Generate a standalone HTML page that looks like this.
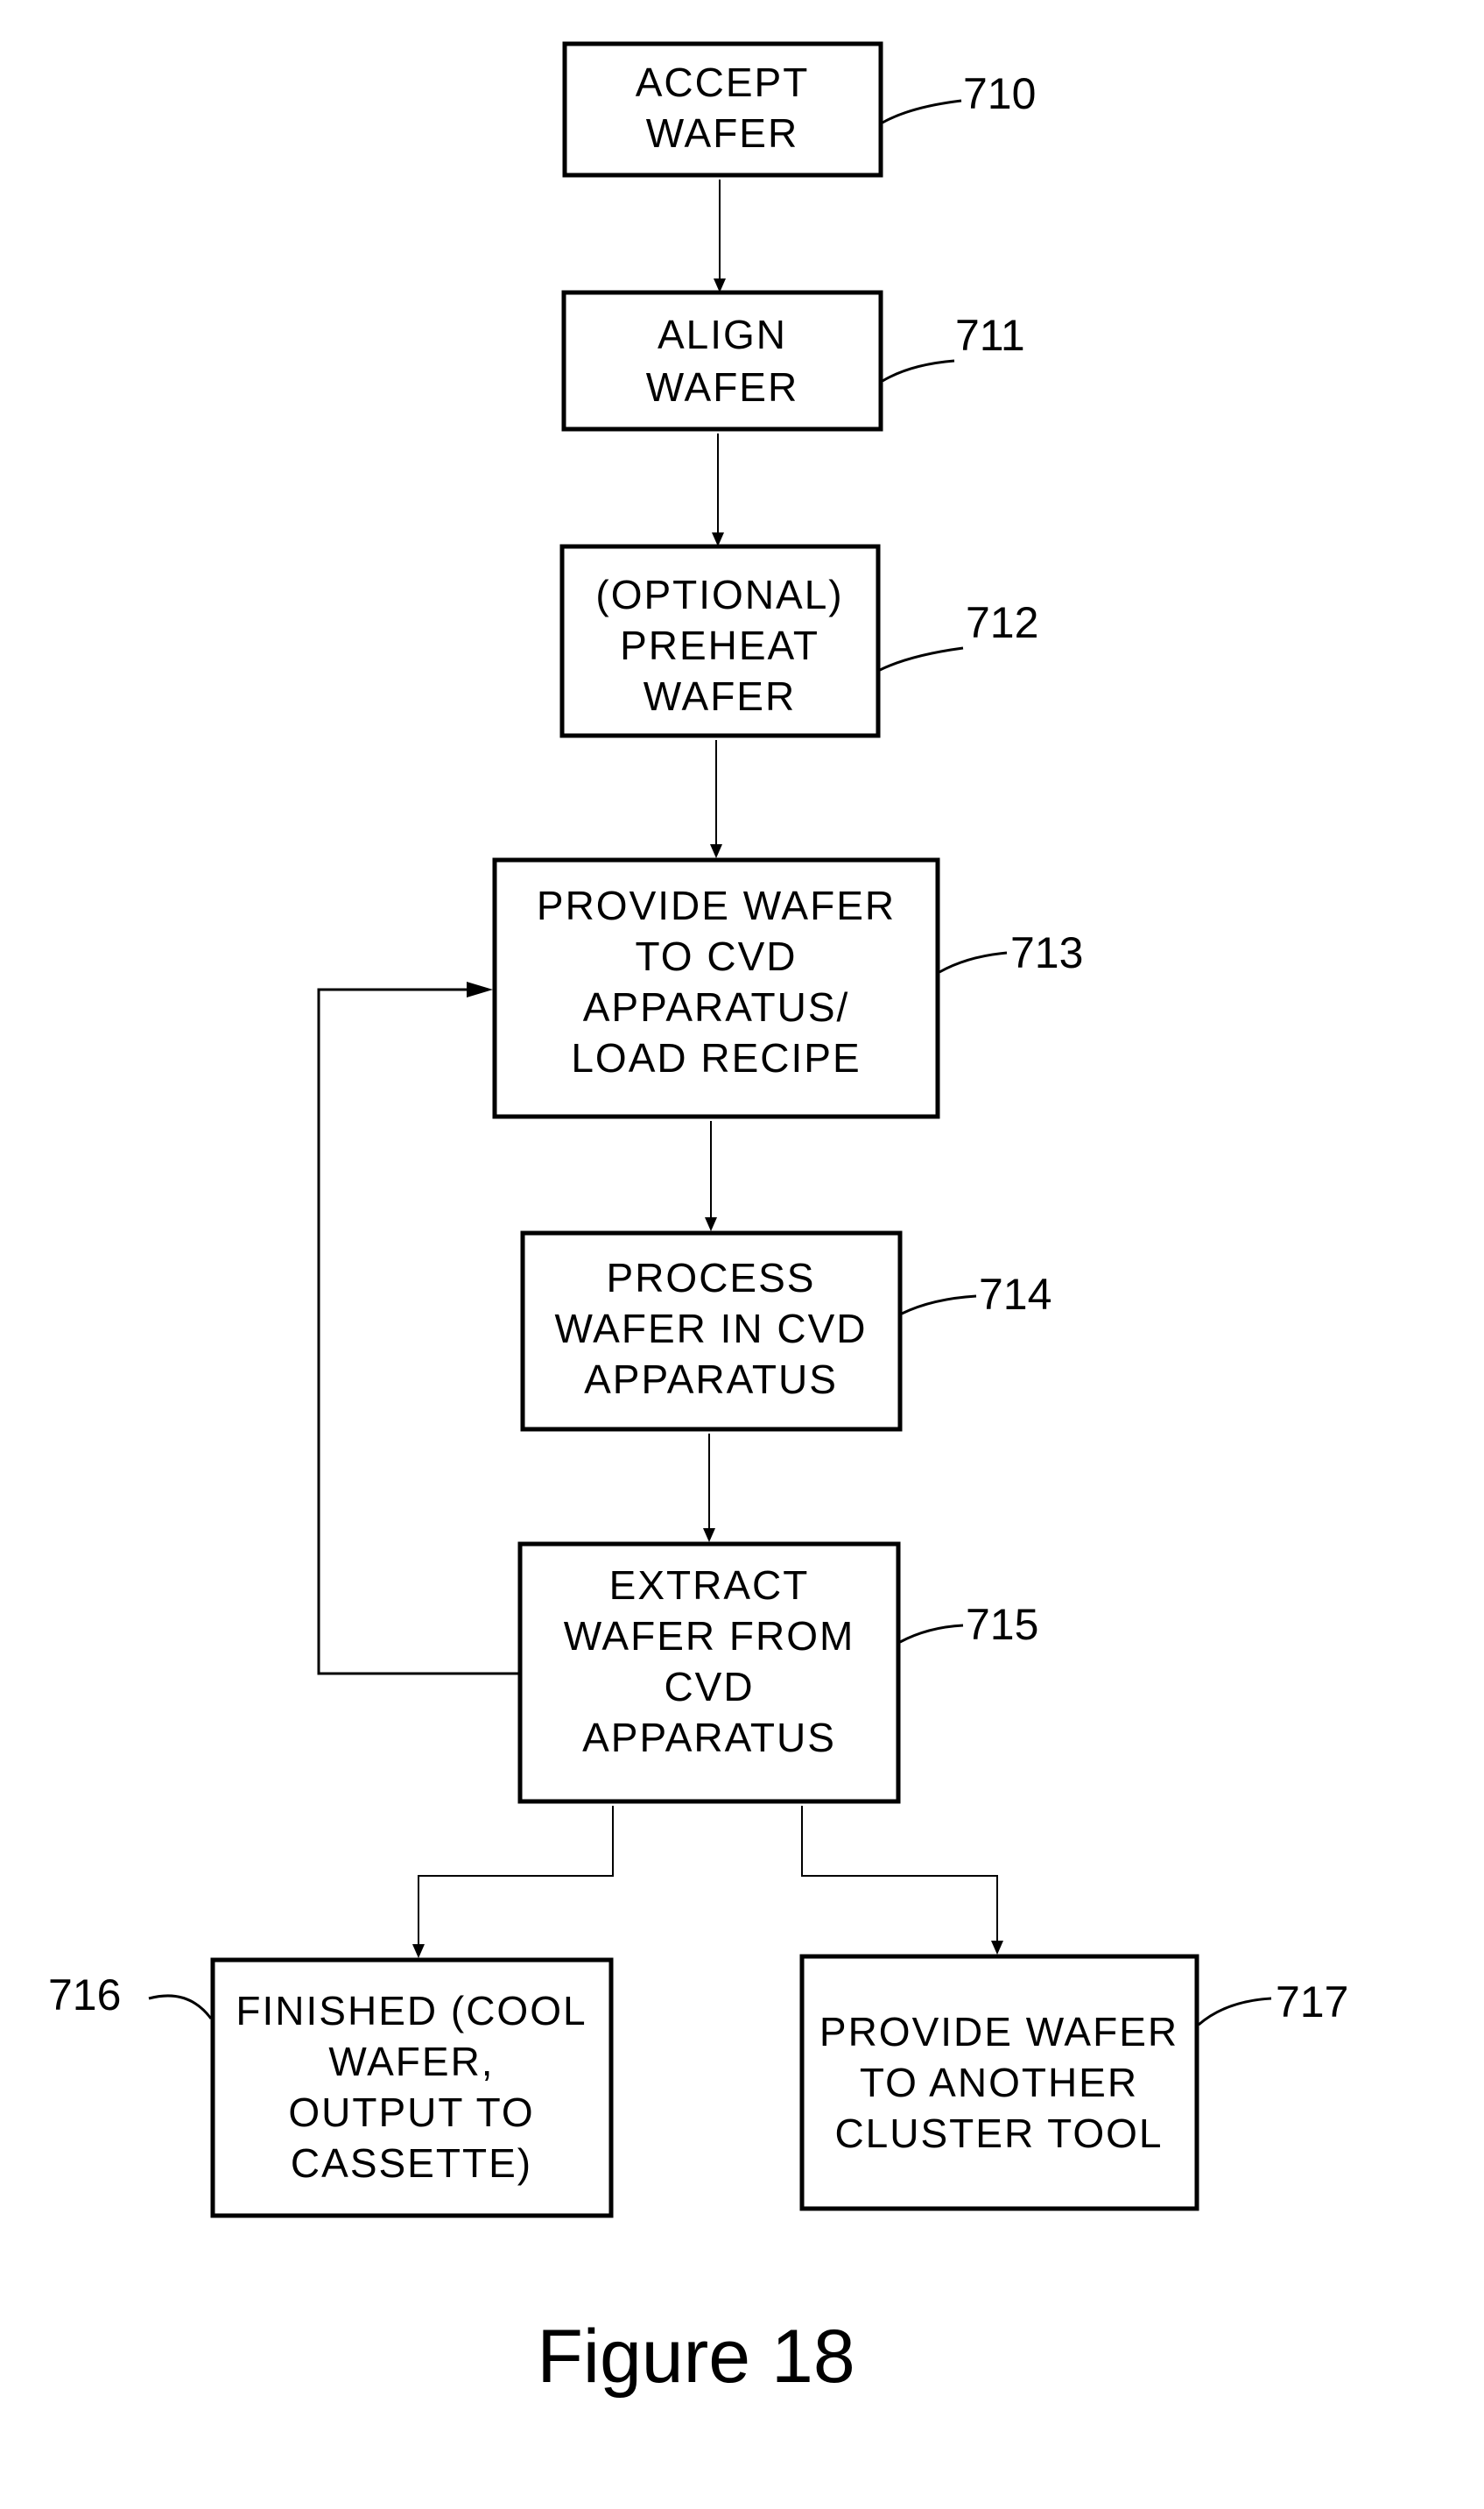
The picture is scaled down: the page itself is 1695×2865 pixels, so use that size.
<!DOCTYPE html>
<html><head><meta charset="utf-8"><style>
html,body{margin:0;padding:0;background:#fff}
svg{display:block}
text{font-family:"Liberation Sans",sans-serif;fill:#000}
.t{font-size:46px;text-anchor:middle;letter-spacing:2px}
.n{font-size:50px}
</style></head><body>
<svg width="1695" height="2865" viewBox="0 0 1695 2865" xmlns="http://www.w3.org/2000/svg">
<g fill="none" stroke="#000" stroke-width="5">
<rect x="645" y="50" width="361" height="150"/>
<rect x="644" y="334" width="362" height="156"/>
<rect x="642" y="624" width="361" height="216"/>
<rect x="565" y="982" width="506" height="293"/>
<rect x="597" y="1408" width="431" height="224"/>
<rect x="594" y="1763" width="432" height="294"/>
<rect x="243" y="2238" width="455" height="292"/>
<rect x="916" y="2234" width="451" height="288"/>
</g>
<g fill="none" stroke="#000" stroke-width="2">
<line x1="822" y1="205" x2="822" y2="320"/>
<line x1="820" y1="495" x2="820" y2="610"/>
<line x1="818" y1="845" x2="818" y2="968"/>
<line x1="812" y1="1280" x2="812" y2="1394"/>
<line x1="810" y1="1637" x2="810" y2="1749"/>
<polyline points="592,1911 364,1911 364,1130 535,1130" stroke-width="3"/>
<polyline points="700,2062 700,2142 478,2142 478,2224"/>
<polyline points="916,2062 916,2142 1139,2142 1139,2220"/>
<path d="M1008,140 Q1040,122 1098,115" stroke-width="3"/>
<path d="M1008,435 Q1040,416 1090,412" stroke-width="3"/>
<path d="M1005,765 Q1040,748 1100,740" stroke-width="3"/>
<path d="M1073,1110 Q1105,1092 1150,1088" stroke-width="3"/>
<path d="M1030,1500 Q1065,1483 1115,1480" stroke-width="3"/>
<path d="M1028,1875 Q1060,1858 1100,1856" stroke-width="3"/>
<path d="M241,2305 Q215,2270 170,2282" stroke-width="3"/>
<path d="M1369,2312 Q1400,2285 1452,2282" stroke-width="3"/>
</g>
<g fill="#000">
<polygon points="815,318 829,318 822,334"/>
<polygon points="813,608 827,608 820,624"/>
<polygon points="811,964 825,964 818,980"/>
<polygon points="805,1390 819,1390 812,1406"/>
<polygon points="803,1745 817,1745 810,1761"/>
<polygon points="471,2220 485,2220 478,2236"/>
<polygon points="1132,2216 1146,2216 1139,2232"/>
<polygon points="533,1121 563,1130 533,1139"/>
</g>
<g class="t">
<text x="825" y="110">ACCEPT</text><text x="825" y="168">WAFER</text>
<text x="825" y="398">ALIGN</text><text x="825" y="458">WAFER</text>
<text x="822" y="695">(OPTIONAL)</text><text x="822" y="753">PREHEAT</text><text x="822" y="811">WAFER</text>
<text x="818" y="1050">PROVIDE WAFER</text><text x="818" y="1108">TO CVD</text><text x="818" y="1166">APPARATUS/</text><text x="818" y="1224">LOAD RECIPE</text>
<text x="812" y="1475">PROCESS</text><text x="812" y="1533">WAFER IN CVD</text><text x="812" y="1591">APPARATUS</text>
<text x="810" y="1826">EXTRACT</text><text x="810" y="1884">WAFER FROM</text><text x="810" y="1942">CVD</text><text x="810" y="2000">APPARATUS</text>
<text x="470" y="2312">FINISHED (COOL</text><text x="470" y="2370">WAFER,</text><text x="470" y="2428">OUTPUT TO</text><text x="470" y="2486">CASSETTE)</text>
<text x="1141" y="2336">PROVIDE WAFER</text><text x="1141" y="2394">TO ANOTHER</text><text x="1141" y="2452">CLUSTER TOOL</text>
</g>
<g class="n">
<text x="1100" y="124">710</text>
<text x="1091" y="400">711</text>
<text x="1103" y="728">712</text>
<text x="1154" y="1105">713</text>
<text x="1118" y="1495">714</text>
<text x="1103" y="1872">715</text>
<text x="55" y="2295">716</text>
<text x="1457" y="2303">717</text>
</g>
<text x="795" y="2720" style="font-size:86px;text-anchor:middle">Figure 18</text>
</svg>
</body></html>
